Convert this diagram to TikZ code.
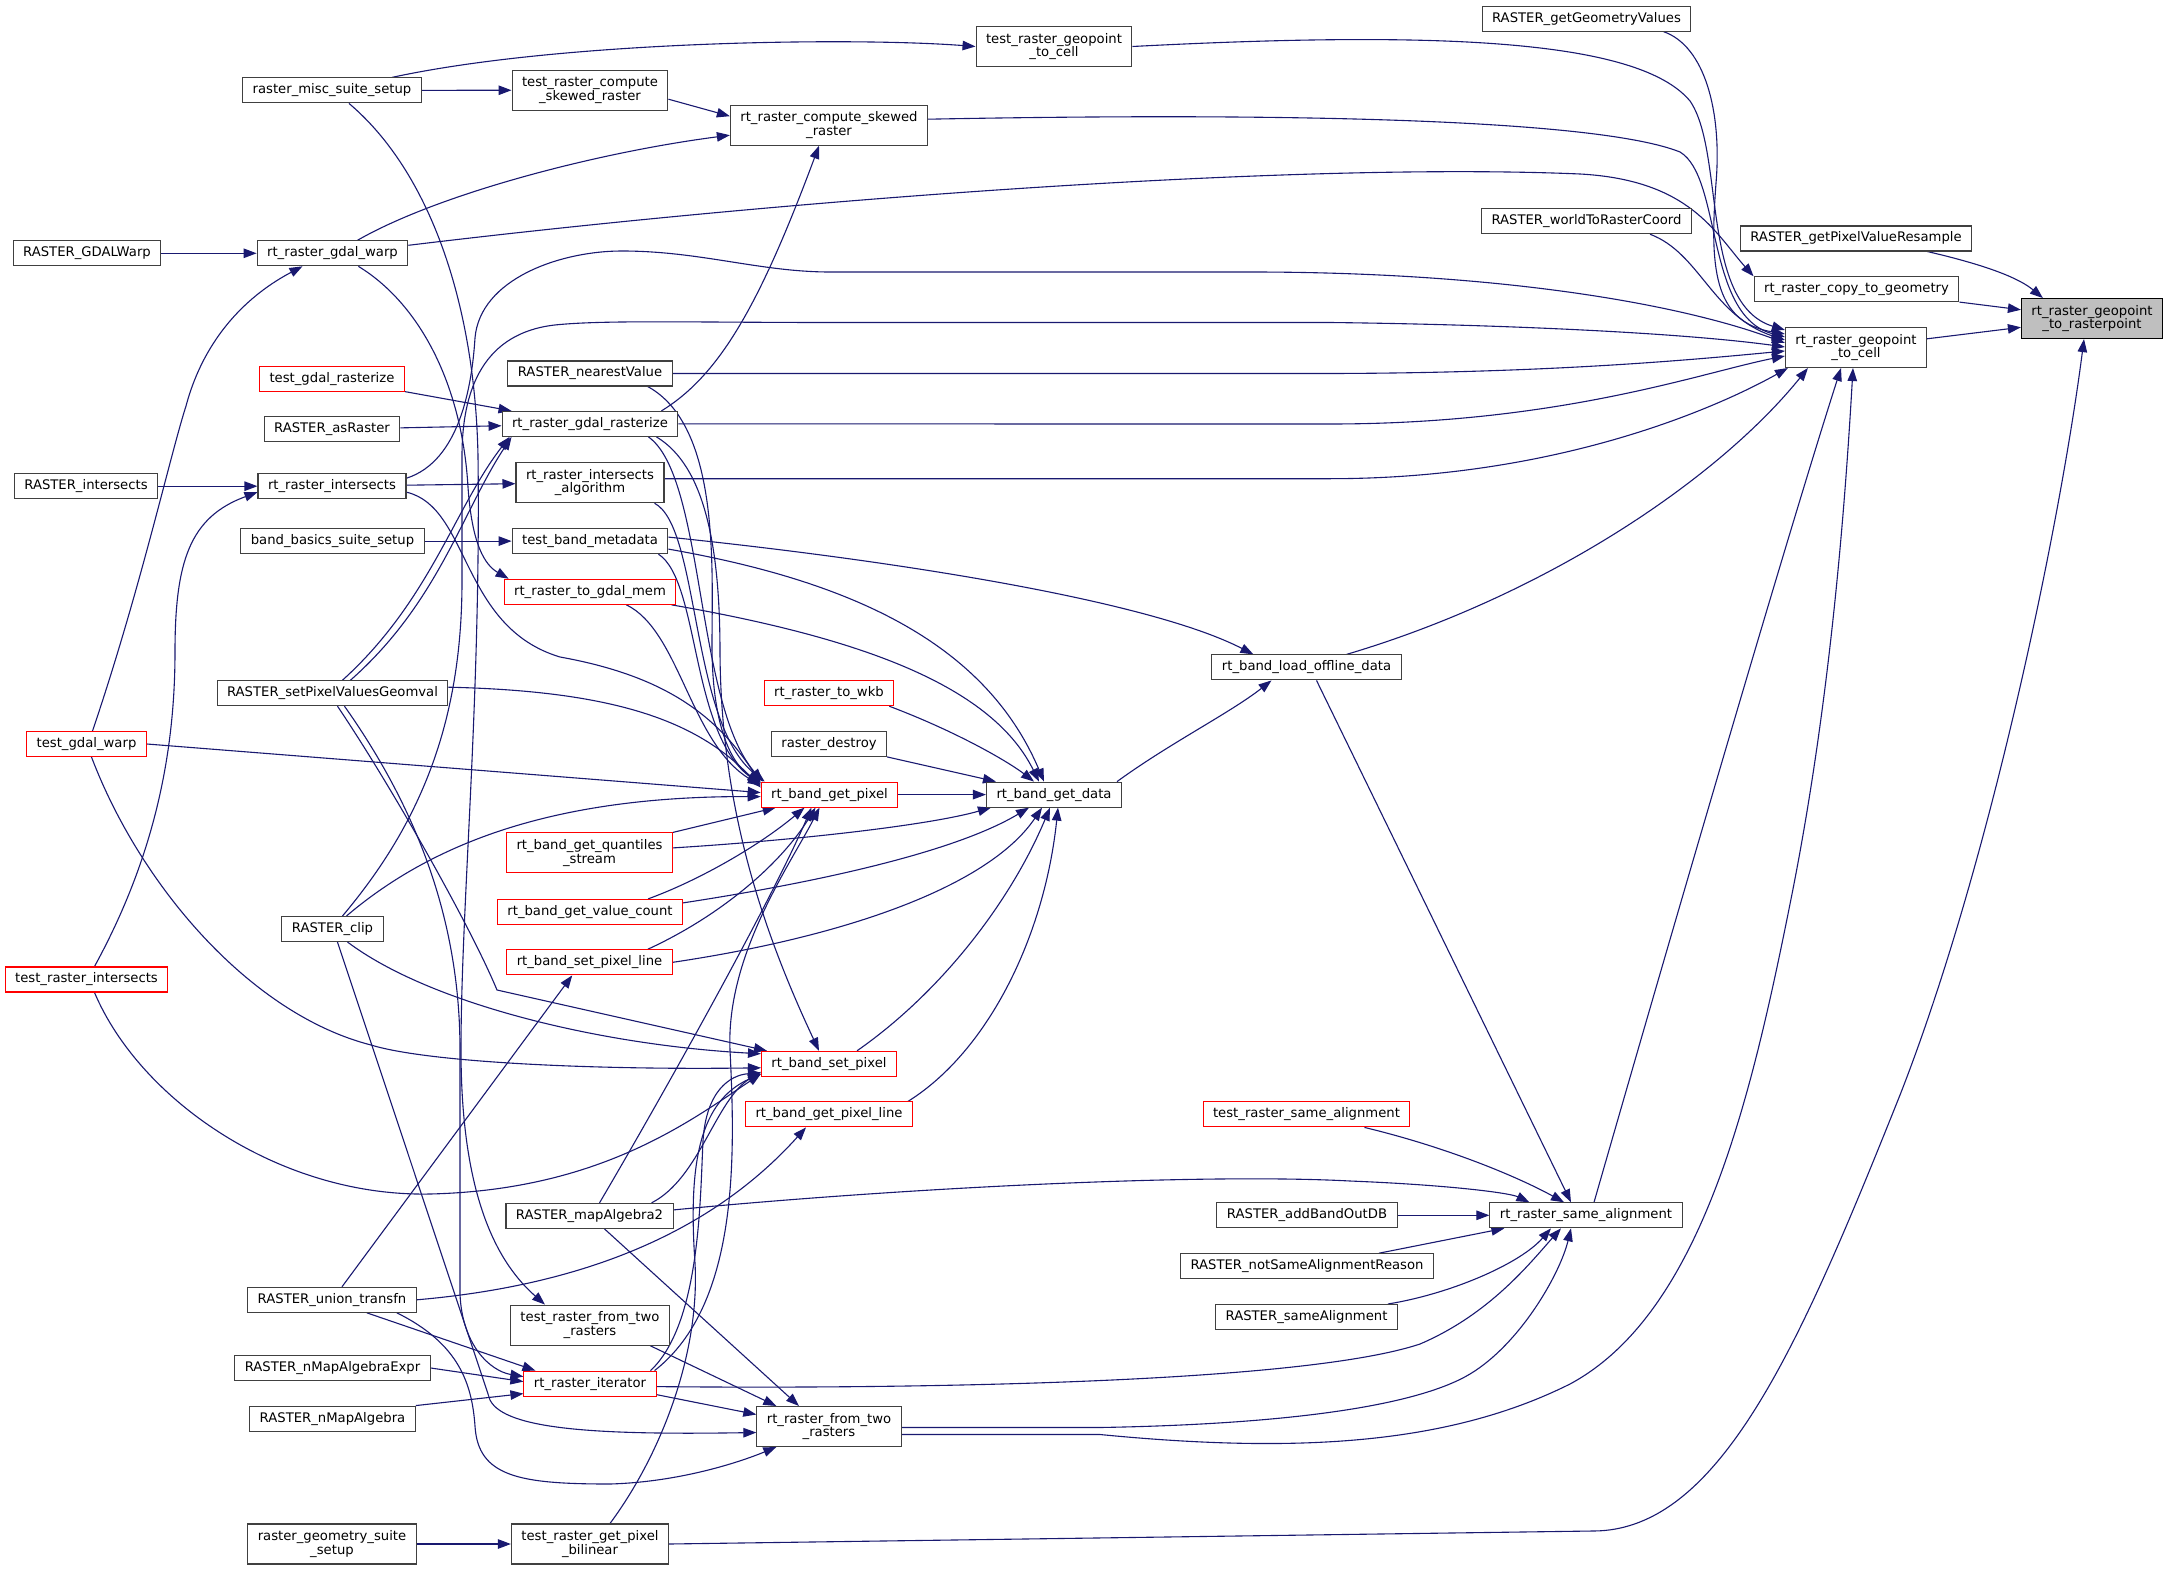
\documentclass[tikz,border=0pt]{standalone}
\usepackage{fontspec}
\setmainfont{DejaVu Sans}
\usetikzlibrary{arrows.meta,calc,backgrounds}
\newcommand\dxf{\fontsize{13.2pt}{13.6pt}\selectfont}
\definecolor{edgecol}{HTML}{191970}
\definecolor{boxcol}{HTML}{404040}
\tikzset{
  box/.style={draw=boxcol, fill=white, line width=1.05pt, inner xsep=10pt, inner ysep=0pt, minimum height=25pt, align=center, font=\dxf},
  box2/.style={box, minimum height=40pt},
  redbox/.style={box, draw=red},
  redbox2/.style={box2, draw=red},
  rootbox/.style={box2, draw=black, fill=black!25},
  ed/.style={draw=edgecol, line width=1.1pt, -{Triangle[length=13pt,width=9.5pt]}},
}
\begin{document}
\begin{tikzpicture}[x=1pt,y=-1pt]
\useasboundingbox (0,0) rectangle (2168,1570);
% nodes
\node[rootbox] (nroot) at (2092,318.6) {rt\_raster\_geopoint\\\_to\_rasterpoint};
\node[box2] (ngpc) at (1856,347.5) {rt\_raster\_geopoint\\\_to\_cell};
\node[box] (nresample) at (1856,238.5) {RASTER\_getPixelValueResample};
\node[box] (ncopy) at (1856.5,289.3) {rt\_raster\_copy\_to\_geometry};
\node[box] (ngetgeom) at (1586.5,18.6) {RASTER\_getGeometryValues};
\node[box] (nwtr) at (1586.5,221.2) {RASTER\_worldToRasterCoord};
\node[box] (nsame) at (1586,1215.3) {rt\_raster\_same\_alignment};
\node[box] (nload) at (1306.5,667.4) {rt\_band\_load\_offline\_data};
\node[redbox] (ntsame) at (1306.5,1114.4) {test\_raster\_same\_alignment};
\node[box] (naddband) at (1307,1215.3) {RASTER\_addBandOutDB};
\node[box] (nnotsame) at (1307,1266.2) {RASTER\_notSameAlignmentReason};
\node[box] (nsamealign) at (1306.5,1317) {RASTER\_sameAlignment};
\node[box2] (ntgpc) at (1054,46.5) {test\_raster\_geopoint\\\_to\_cell};
\node[box] (ngetdata) at (1054,794.6) {rt\_band\_get\_data};
\node[box2] (nskew) at (829,125.2) {rt\_raster\_compute\_skewed\\\_raster};
\node[redbox] (nwkb) at (829,693.2) {rt\_raster\_to\_wkb};
\node[box] (ndestroy) at (829,743.9) {raster\_destroy};
\node[redbox] (ngetpixel) at (829.5,794.6) {rt\_band\_get\_pixel};
\node[redbox] (nsetpixel) at (829,1063.8) {rt\_band\_set\_pixel};
\node[redbox] (ngetpixline) at (829,1114.4) {rt\_band\_get\_pixel\_line};
\node[box2] (nfrom2) at (829,1426.5) {rt\_raster\_from\_two\\\_rasters};
\node[box2] (ntskew) at (590,90.2) {test\_raster\_compute\\\_skewed\_raster};
\node[box] (nnearest) at (590,373.5) {RASTER\_nearestValue};
\node[box] (nrasterize) at (590,423.9) {rt\_raster\_gdal\_rasterize};
\node[box2] (ninteralg) at (590,482.7) {rt\_raster\_intersects\\\_algorithm};
\node[box] (ntbandmeta) at (590,541.1) {test\_band\_metadata};
\node[redbox] (ntogdal) at (590,591.8) {rt\_raster\_to\_gdal\_mem};
\node[redbox2] (nquant) at (589.5,852.9) {rt\_band\_get\_quantiles\\\_stream};
\node[redbox] (nvalcount) at (590,911.9) {rt\_band\_get\_value\_count};
\node[redbox] (nsetpixline) at (589.5,962.3) {rt\_band\_set\_pixel\_line};
\node[box] (nmapalg2) at (589.5,1215.9) {RASTER\_mapAlgebra2};
\node[box2] (ntfrom2) at (590,1325.1) {test\_raster\_from\_two\\\_rasters};
\node[redbox] (niter) at (590,1383.6) {rt\_raster\_iterator};
\node[box2] (ntbilin) at (590,1544) {test\_raster\_get\_pixel\\\_bilinear};
\node[box] (nmisc) at (332,90.4) {raster\_misc\_suite\_setup};
\node[box] (nwarp) at (332.5,253.3) {rt\_raster\_gdal\_warp};
\node[redbox] (ntgdalrast) at (332,378.6) {test\_gdal\_rasterize};
\node[box] (nasraster) at (332,429.3) {RASTER\_asRaster};
\node[box] (ninter) at (332,486.2) {rt\_raster\_intersects};
\node[box] (nbandbasics) at (332.5,541.1) {band\_basics\_suite\_setup};
\node[box] (nsetpv) at (332.5,693.2) {RASTER\_setPixelValuesGeomval};
\node[box] (nclip) at (332.5,929) {RASTER\_clip};
\node[box] (nunion) at (332,1299.8) {RASTER\_union\_transfn};
\node[box] (nnmapexpr) at (332.5,1368) {RASTER\_nMapAlgebraExpr};
\node[box] (nnmap) at (332.5,1418.6) {RASTER\_nMapAlgebra};
\node[box2] (ngeomsuite) at (332,1544) {raster\_geometry\_suite\\\_setup};
\node[box] (ngdalwarp) at (87,253.3) {RASTER\_GDALWarp};
\node[box] (nrinter) at (86,486.2) {RASTER\_intersects};
\node[redbox] (ntgdalwarp) at (86.5,744) {test\_gdal\_warp};
\node[redbox] (ntrinter) at (86.5,979.5) {test\_raster\_intersects};
\begin{pgfonlayer}{background}
\fill[white] (0,0) rectangle (2168,1570);
% root
\draw[ed] ($(nresample.south east)+(-45,0)$) .. controls (1990,266) and (2020,279) .. ($(nroot.north west)+(22,0)$);
\draw[ed] (ncopy) -- (nroot);
\draw[ed] (ngpc) -- (nroot);
\draw[ed] (ntbilin.east) -- (1593,1531) .. controls (1720,1531) and (1800,1345) .. (1900,1095) .. controls (1990,865) and (2060,525) .. ($(nroot.south)+(-8,0)$);
% into gpc
\draw[ed] (ntgpc.east) .. controls (1450,30) and (1640,41) .. (1690,101) .. controls (1725,152) and (1700,304) .. ($(ngpc.north west)+(0,3)$);
\draw[ed] ($(ngetgeom.south east)+(-28,0)$) .. controls (1705,46) and (1722,112) .. (1716,183) .. controls (1710,264) and (1712,322) .. ($(ngpc.north west)+(0,7)$);
\draw[ed] ($(nskew.east)+(0,-6)$) .. controls (1300,112) and (1600,120) .. (1680,152) .. controls (1722,177) and (1705,316) .. ($(ngpc.north west)+(0,10)$);
\draw[ed] ($(nwtr.south east)+(-42,0)$) .. controls (1700,253) and (1712,316) .. ($(ngpc.north west)+(0,13)$);
\draw[ed] ($(ninter.east)+(0,-8)$) .. controls (460,461) and (472,385) .. (475,338) .. controls (480,279) and (560,251) .. (622,251) .. controls (700,251) and (760,272) .. (830,272) -- (1250,272) .. controls (1500,272) and (1680,304) .. ($(ngpc.north west)+(0,16)$);
\draw[ed] ($(nclip.north)+(10,0)$) .. controls (420,824) and (462,723) .. (462,581) -- (462,456) .. controls (462,380) and (490,330) .. (560,324.5) .. controls (610,320) and (700,322.5) .. (830,322.5) -- (1330,322.5) .. controls (1500,324.5) and (1680,332.6) .. ($(ngpc.north west)+(0,20)$);
\draw[ed] (nnearest.east) -- (1330,373.5) .. controls (1550,373) and (1690,360) .. ($(ngpc.north west)+(0,24)$);
\draw[ed] (nrasterize.east) -- (1330,424) .. controls (1560,424) and (1700,373) .. ($(ngpc.north west)+(0,29)$);
\draw[ed] ($(ninteralg.east)+(0,-4)$) -- (1330,478.7) .. controls (1560,478.7) and (1720,406) .. ($(ngpc.south west)+(3,0)$);
\draw[ed] ($(nload.north east)+(-55,0)$) .. controls (1550,594) and (1720,477) .. ($(ngpc.south west)+(23,0)$);
\draw[ed] ($(nsame.north)+(8,0)$) .. controls (1680,903) and (1790,527) .. ($(ngpc.south)+(-15,0)$);
\draw[ed] ($(nfrom2.east)+(0,8)$) -- (1100,1434.5) .. controls (1300,1454) and (1450,1444) .. (1570,1384) .. controls (1700,1314) and (1750,1104) .. (1790,904) .. controls (1830,706) and (1845,507) .. ($(ngpc.south)+(-3,0)$);
% copy
\draw[ed] ($(nwarp.east)+(0,-8)$) .. controls (800,198) and (1300,162) .. (1580,174) .. controls (1690,180) and (1715,233) .. (ncopy.north west);
% skew
\draw[ed] ($(nwarp.north)+(25,0)$) .. controls (440,193) and (600,152) .. ($(nskew.west)+(0,10)$);
\draw[ed] ($(ntskew.east)+(0,9)$) -- ($(nskew.west)+(0,-9)$);
\draw[ed] ($(nrasterize.north east)+(-17,0)$) .. controls (720,375) and (760,304) .. ($(nskew.south)+(-10,0)$);
% misc
\draw[ed] (nmisc) .. controls (560,41) and (850,37) .. (ntgpc.west);
\draw[ed] (nmisc) -- (ntskew);
\draw[ed] ($(nmisc.south)+(17,0)$) .. controls (430,172) and (475,304) .. (478,456) .. controls (481,702) and (461,905) .. (461,1050) .. controls (461,1202) and (500,1265) .. ($(ntfrom2.north west)+(35,0)$);
% warp
\draw[ed] (ngdalwarp) -- (nwarp);
\draw[ed] ($(ntgdalwarp.north)+(6,0)$) .. controls (140,591) and (170,456) .. (186,406) .. controls (205,335) and (250,294) .. ($(nwarp.south)+(-30,0)$);
\draw[ed] ($(nwarp.south east)+(-50,0)$) .. controls (420,304) and (462,385) .. (468,487) .. controls (472,545) and (485,565) .. ($(ntogdal.north west)+(5,0)$);
% rasterize
\draw[ed] (ntgdalrast.south east) -- ($(nrasterize.north west)+(10,0)$);
\draw[ed] (nasraster) -- (nrasterize);
\draw[ed] ($(nsetpv.north)+(10,0)$) .. controls (430,601) and (455,507) .. ($(nrasterize.south west)+(8,0)$);
\draw[ed] ($(nsetpv.north)+(18,0)$) .. controls (438,603) and (462,512) .. ($(nrasterize.south west)+(10,0)$);
% intersects
\draw[ed] (nrinter) -- (ninter);
\draw[ed] ($(ntrinter.north)+(8,0)$) .. controls (150,865) and (175,763) .. (175,652) .. controls (175,561) and (190,517) .. ($(ninter.west)+(0,6)$);
\draw[ed] (ninter) -- (ninteralg);
\draw[ed] (nbandbasics) -- (ntbandmeta);
% load
\draw[ed] ($(ntbandmeta.east)+(0,-4)$) .. controls (900,561) and (1150,601) .. ($(nload.north west)+(42,0)$);
\draw[ed] ($(ngetdata.north east)+(-5,0)$) .. controls (1170,743) and (1230,713) .. ($(nload.south)+(-35,0)$);
\draw[ed] ($(nload.south)+(10,0)$) -- ($(nsame.north)+(-15,0)$);
% same
\draw[ed] ($(ntsame.south east)+(-46,0)$) .. controls (1450,1148) and (1520,1178) .. ($(nsame.north)+(-22,0)$);
\draw[ed] (naddband) -- (nsame);
\draw[ed] ($(nnotsame.north east)+(-55,0)$) -- ($(nsame.south west)+(15,0)$);
\draw[ed] ($(nsamealign.north east)+(-10,0)$) .. controls (1450,1294) and (1520,1264) .. ($(nsame.south)+(-35,0)$);
\draw[ed] ($(nmapalg2.east)+(0,-6)$) .. controls (900,1188) and (1200,1173) .. (1350,1181) .. controls (1450,1185) and (1510,1193) .. ($(nsame.north west)+(40,0)$);
\draw[ed] ($(niter.east)+(0,3)$) .. controls (900,1389) and (1300,1384) .. (1420,1344) .. controls (1490,1314) and (1530,1263) .. ($(nsame.south)+(-25,0)$);
\draw[ed] ($(nfrom2.east)+(0,1)$) -- (1100,1427.5) .. controls (1300,1424) and (1420,1404) .. (1470,1374) .. controls (1520,1344) and (1560,1274) .. ($(nsame.south)+(-15,0)$);
% get_data
\draw[ed] (ngetpixel) -- (ngetdata);
\draw[ed] ($(nwkb.south east)+(-5,0)$) .. controls (960,733) and (1010,763) .. ($(ngetdata.north)+(-20,0)$);
\draw[ed] (ndestroy.south east) -- ($(ngetdata.north west)+(10,0)$);
\draw[ed] ($(ntbandmeta.east)+(0,8)$) .. controls (850,581) and (985,642) .. ($(ngetdata.north)+(-10,0)$);
\draw[ed] ($(ntogdal.south east)+(-5,0)$) .. controls (850,636) and (990,682) .. ($(ngetdata.north)+(-15,0)$);
\draw[ed] ($(nquant.east)+(0,-5)$) .. controls (800,840) and (930,825) .. ($(ngetdata.south west)+(5,0)$);
\draw[ed] ($(nvalcount.north east)+(0,4)$) .. controls (800,885) and (950,855) .. ($(ngetdata.south)+(-25,0)$);
\draw[ed] (nsetpixline.east) .. controls (850,936) and (990,885) .. ($(ngetdata.south)+(-12,0)$);
\draw[ed] ($(nsetpixel.north east)+(-40,0)$) .. controls (940,993) and (1010,903) .. ($(ngetdata.south)+(-4,0)$);
\draw[ed] ($(ngetpixline.north east)+(-5,0)$) .. controls (990,1050) and (1045,933) .. ($(ngetdata.south)+(4,0)$);
% get_pixel
\draw[ed] ($(ninter.east)+(0,6)$) .. controls (470,507) and (460,627) .. (560,657) .. controls (660,675) and (715,712) .. ($(ngetpixel.north west)+(0,2)$);
\draw[ed] ($(nsetpv.east)+(0,-6)$) .. controls (620,691) and (700,723) .. ($(ngetpixel.north west)+(0,6)$);
\draw[ed] (ntgdalwarp.east) -- ($(ngetpixel.west)+(0,-2)$);
\draw[ed] ($(nclip.north)+(14,0)$) .. controls (430,845) and (550,796) .. ($(ngetpixel.west)+(0,2)$);
\draw[ed] (nquant.north east) -- ($(ngetpixel.south west)+(15,0)$);
\draw[ed] ($(nvalcount.north east)+(-35,0)$) .. controls (700,880) and (760,845) .. ($(ngetpixel.south)+(-25,0)$);
\draw[ed] ($(nsetpixline.north east)+(-25,0)$) .. controls (720,916) and (780,865) .. ($(ngetpixel.south)+(-14,0)$);
\draw[ed] ($(nmapalg2.north)+(10,0)$) .. controls (660,1100) and (770,904) .. ($(ngetpixel.south)+(-18,0)$);
\draw[ed] ($(niter.north east)+(-2,0)$) .. controls (740,1304) and (735,1152) .. (730,1050) .. controls (726,955) and (790,865) .. ($(ngetpixel.south)+(-10,0)$);
\draw[ed] ($(nnearest.south east)+(-25,0)$) .. controls (720,426) and (712,567) .. (712,645) .. controls (712,723) and (730,763) .. ($(ngetpixel.north west)+(0,1)$);
\draw[ed] ($(nrasterize.south east)+(-30,0)$) .. controls (705,477) and (695,703) .. ($(ngetpixel.north west)+(2,0)$);
\draw[ed] ($(ninteralg.south east)+(-10,0)$) .. controls (700,527) and (690,723) .. ($(ngetpixel.north west)+(4,0)$);
\draw[ed] ($(ntbandmeta.south east)+(-10,0)$) .. controls (700,581) and (690,733) .. ($(ngetpixel.north west)+(0,3)$);
\draw[ed] ($(ntogdal.south east)+(-50,0)$) .. controls (680,631) and (690,743) .. ($(ngetpixel.north west)+(0,4)$);
% set_pixel
\draw[ed] ($(nrasterize.south east)+(-22,0)$) .. controls (705,466) and (720,547) .. (720,653) .. controls (721,804) and (760,925) .. ($(nsetpixel.north)+(-10,0)$);
\draw[ed] ($(ntgdalwarp.south)+(5,0)$) .. controls (140,885) and (250,1014) .. (371,1045) .. controls (430,1063) and (600,1070) .. ($(nsetpixel.west)+(0,4)$);
\draw[ed] ($(nclip.south)+(15,0)$) .. controls (430,1004) and (600,1045) .. ($(nsetpixel.north west)+(0,3)$);
\draw[ed] ($(nsetpv.south)+(5,0)$) .. controls (390,784) and (470,925) .. (497,990) -- ($(nsetpixel.north west)+(6,0)$);
\draw[ed] ($(ntrinter.south)+(8,0)$) .. controls (140,1100) and (280,1197) .. (430,1194) .. controls (600,1190) and (690,1121) .. ($(nsetpixel.south west)+(0,-3)$);
\draw[ed] ($(nmapalg2.north east)+(-22,0)$) .. controls (700,1178) and (715,1100) .. ($(nsetpixel.west)+(0,8)$);
\draw[ed] ($(niter.north east)+(-6,0)$) .. controls (700,1324) and (700,1202) .. (703,1141) .. controls (706,1091) and (730,1075) .. ($(nsetpixel.west)+(0,9)$);
\draw[ed] ($(ntbilin.north)+(20,0)$) .. controls (660,1456) and (700,1355) .. (695,1263) .. controls (688,1162) and (700,1101) .. ($(nsetpixel.west)+(0,10)$);
% from2
\draw[ed] ($(ntfrom2.south east)+(-20,0)$) -- ($(nfrom2.north west)+(20,0)$);
\draw[ed] ($(nmapalg2.south)+(15,0)$) -- ($(nfrom2.north)+(-30,0)$);
\draw[ed] ($(niter.south east)+(0,-2)$) -- ($(nfrom2.west)+(0,-12)$);
\draw[ed] ($(nclip.south)+(5,0)$) -- (490,1400) .. controls (505,1430) and (600,1435) .. ($(nfrom2.west)+(0,6)$);
\draw[ed] ($(nunion.south east)+(-20,0)$) .. controls (460,1344) and (472,1385) .. (475,1426) .. controls (478,1477) and (520,1484) .. (610,1484) .. controls (680,1482) and (740,1462) .. ($(nfrom2.south west)+(20,0)$);
% iterator
\draw[ed] ($(nsetpv.south)+(12,0)$) .. controls (420,813) and (460,925) .. (460,1050) -- (460,1294) .. controls (462,1345) and (490,1371) .. ($(niter.west)+(0,-7)$);
\draw[ed] ($(nunion.south east)+(-50,0)$) -- ($(niter.north west)+(12,0)$);
\draw[ed] (nnmapexpr.east) -- ($(niter.west)+(0,-2)$);
\draw[ed] (nnmap.north east) -- ($(niter.south west)+(0,-3)$);
% union others
\draw[ed] ($(nunion.north)+(10,0)$) -- ($(nsetpixline.south west)+(66,0)$);
\draw[ed] (nunion.east) .. controls (600,1284) and (720,1223) .. ($(ngetpixline.south)+(-23,0)$);
% bilinear
\draw[ed] (ngeomsuite) -- (ntbilin);
\end{pgfonlayer}
\end{tikzpicture}
\end{document}
